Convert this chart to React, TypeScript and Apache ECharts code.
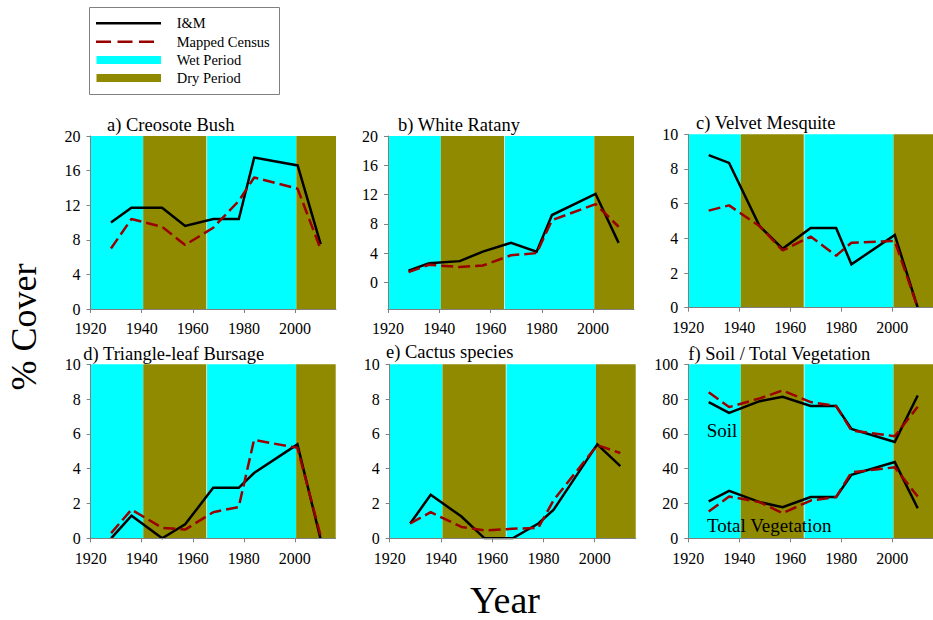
import React, { useEffect, useRef } from "react";
import * as echarts from "echarts";

const years = [1928, 1936, 1948, 1957, 1968, 1978, 1984, 2001, 2010];

const creosoteIM = [10.0, 11.7, 11.7, 9.6, 10.4, 10.4, 17.5, 16.6, 7.5];
const creosoteMC = [7.0, 10.4, 9.5, 7.4, 9.4, 12.5, 15.2, 13.9, 6.9];
const ratanyIM = [1.6, 2.6, 2.9, 4.2, 5.4, 4.2, 9.2, 12.1, 5.4];
const ratanyMC = [1.4, 2.4, 2.1, 2.3, 3.7, 4.0, 8.5, 10.7, 7.6];
const mesquiteIM = [8.8, 8.35, 4.7, 3.4, 4.6, 4.6, 2.5, 4.2, 0];
const mesquiteMC = [5.6, 5.9, 4.7, 3.3, 4.1, 3.0, 3.75, 3.85, 0];
const bursageIM = [0, 1.3, 0, 0.8, 2.9, 2.9, 3.75, 5.4, 0];
const bursageMC = [0.3, 1.65, 0.6, 0.5, 1.5, 1.8, 5.65, 5.2, 0.2];
const cactusIM = [0.85, 2.5, 1.25, 0, 0, 0.85, 1.65, 5.4, 4.15];
const cactusMC = [0.85, 1.5, 0.65, 0.45, 0.55, 0.6, 2.2, 5.35, 4.9];
const soilIM = [78.3, 72.1, 78.8, 81.3, 76, 76, 62.9, 55.4, 82.1];
const soilMC = [84, 75.4, 80.4, 85, 78.3, 76, 62, 58.7, 75.6];
const vegIM = [21.2, 27.3, 20.8, 17.9, 23.7, 23.7, 36.5, 43.8, 17.3];
const vegMC = [15.4, 24, 20.8, 14.4, 21.7, 23.7, 37.9, 40.8, 24];

const xTicks = [1920, 1940, 1960, 1980, 2000];
const yTicks20 = [0, 4, 8, 12, 16, 20];
const yTicks10 = [0, 2, 4, 6, 8, 10];
const yTicks100 = [0, 20, 40, 60, 80, 100];

const periodKinds = ["wet", "dry", "wet", "dry"];
const periodStart = [1920, 1940.6, 1965.6, 2000.5];
const periodEnd = [1940.6, 1965.3, 2000.5, 2016];

const titles = [
  "a) Creosote Bush",
  "b) White Ratany",
  "c) Velvet Mesquite",
  "d) Triangle-leaf Bursage",
  "e) Cactus species",
  "f) Soil / Total Vegetation",
];

const legendTexts = ["I&M", "Mapped Census", "Wet Period", "Dry Period"];

const WET = "#00FFFF";
const DRY = "#8F8A00";
const RED = "#990000";
const FONT = "Liberation Serif";

type Panel = {
  grid: { left: number; top: number; width: number; height: number };
  yMin: number;
  yMax: number;
  yTicks: number[];
  im: number[][];
  mc: number[][];
  title: { x: number; y: number };
};

const panels: Panel[] = [
  { grid: { left: 90.5, top: 136, width: 245.5, height: 173 }, yMin: 0, yMax: 20, yTicks: yTicks20, im: [creosoteIM], mc: [creosoteMC], title: { x: 107, y: 125 } },
  { grid: { left: 388, top: 136, width: 246, height: 173 }, yMin: -3.64, yMax: 20, yTicks: yTicks20, im: [ratanyIM], mc: [ratanyMC], title: { x: 398, y: 125 } },
  { grid: { left: 688.3, top: 134.3, width: 244.7, height: 173.4 }, yMin: 0, yMax: 10, yTicks: yTicks10, im: [mesquiteIM], mc: [mesquiteMC], title: { x: 696, y: 122.7 } },
  { grid: { left: 90.7, top: 364.3, width: 245, height: 174 }, yMin: 0, yMax: 10, yTicks: yTicks10, im: [bursageIM], mc: [bursageMC], title: { x: 83.3, y: 354 } },
  { grid: { left: 389.7, top: 364.3, width: 246, height: 174 }, yMin: 0, yMax: 10, yTicks: yTicks10, im: [cactusIM], mc: [cactusMC], title: { x: 386, y: 352.3 } },
  { grid: { left: 688.3, top: 364.3, width: 244.7, height: 174 }, yMin: 0, yMax: 100, yTicks: yTicks100, im: [soilIM, vegIM], mc: [soilMC, vegMC], title: { x: 688.3, y: 354 } },
];

const pairs = (vals: number[]) => years.map((y, i) => [y, vals[i]]);

function txt(text: string, x: number, y: number, size: number, extra: any = {}) {
  return {
    type: "text",
    x,
    y,
    silent: true,
    z: 20,
    style: {
      text,
      fill: "#000",
      fontSize: size,
      fontFamily: FONT,
      align: "left",
      verticalAlign: "middle",
      textAlign: "left",
      textVerticalAlign: "middle",
      ...extra,
    },
  };
}

export default function App() {
  const ref = useRef<HTMLDivElement>(null);

  useEffect(() => {
    if (!ref.current) return;
    const chart = echarts.init(ref.current, null, { renderer: "svg" });

    const axisLineStyle = { color: "#808080", width: 1 };

    const grids = panels.map((p) => ({ ...p.grid, containLabel: false }));
    const xAxes = panels.map((p, i) => ({
      type: "value",
      gridIndex: i,
      min: 1920,
      max: 2016,
      interval: 20,
      z: 5,
      splitLine: { show: false },
      axisLine: { show: true, onZero: false, lineStyle: axisLineStyle },
      axisTick: { show: true, length: 4, lineStyle: axisLineStyle, customValues: xTicks },
      axisLabel: { show: false },
    }));
    const yAxes = panels.map((p, i) => {
      const step = p.yTicks[1] - p.yTicks[0];
      const useCustom = p.yMin % step !== 0;
      return {
        type: "value",
        gridIndex: i,
        min: p.yMin,
        max: p.yMax,
        interval: useCustom ? undefined : step,
        z: 5,
        splitLine: { show: false },
        axisLine: { show: true, onZero: false, lineStyle: axisLineStyle },
        axisTick: { show: true, length: 4, lineStyle: axisLineStyle, customValues: p.yTicks },
        axisLabel: { show: false },
      };
    });

    const series: any[] = [];
    panels.forEach((p, i) => {
      p.im.forEach((vals, k) => {
        series.push({
          type: "line",
          xAxisIndex: i,
          yAxisIndex: i,
          data: pairs(vals),
          symbol: "none",
          z: 3,
          lineStyle: { color: "#000", width: 2.5, join: "miter" },
          markArea:
            k === 0
              ? {
                  silent: true,
                  data: periodKinds.map((kind, j) => [
                    { xAxis: periodStart[j], itemStyle: { color: kind === "wet" ? WET : DRY, opacity: 1 } },
                    { xAxis: periodEnd[j] },
                  ]),
                }
              : undefined,
        });
      });
      p.mc.forEach((vals) => {
        series.push({
          type: "line",
          xAxisIndex: i,
          yAxisIndex: i,
          data: pairs(vals),
          symbol: "none",
          z: 4,
          lineStyle: { color: RED, width: 2.5, type: [12, 5] },
        });
      });
    });

    chart.setOption({
      animation: false,
      backgroundColor: "#fff",
      textStyle: { fontFamily: FONT },
      grid: grids,
      xAxis: xAxes,
      yAxis: yAxes,
      series,
    });

    const graphic: any[] = [];

    // tick labels, placed through the library's own scales
    panels.forEach((p, i) => {
      xTicks.forEach((t) => {
        const pt = chart.convertToPixel({ gridIndex: i } as any, [t, p.yMin]) as number[];
        graphic.push(txt(String(t), pt[0], pt[1] + 19.7, 16, { align: "center", textAlign: "center" }));
      });
      p.yTicks.forEach((t) => {
        const pt = chart.convertToPixel({ gridIndex: i } as any, [1920, t]) as number[];
        graphic.push(txt(String(t), pt[0] - 10, pt[1], 16, { align: "right", textAlign: "right" }));
      });
    });

    panels.forEach((p, i) => graphic.push(txt(titles[i], p.title.x, p.title.y, 18.5)));
    graphic.push(txt("Soil", 706.7, 430, 19));
    graphic.push(txt("Total Vegetation", 707, 525, 19));
    const cover: any = txt("% Cover", 24, 327, 36, { align: "center", textAlign: "center" });
    cover.rotation = Math.PI / 2;
    graphic.push(cover);
    graphic.push(txt("Year", 505, 600, 38, { align: "center", textAlign: "center" }));

    // legend box
    graphic.push({
      type: "rect",
      silent: true,
      z: 20,
      shape: { x: 89.5, y: 7.5, width: 190, height: 87 },
      style: { fill: "#fff", stroke: "#808080", lineWidth: 1 },
    });
    graphic.push({
      type: "line",
      silent: true,
      z: 21,
      shape: { x1: 96, y1: 23.3, x2: 161, y2: 23.3 },
      style: { stroke: "#000", lineWidth: 2.5 },
    });
    graphic.push({
      type: "line",
      silent: true,
      z: 21,
      shape: { x1: 96, y1: 41.7, x2: 154, y2: 41.7 },
      style: { stroke: RED, lineWidth: 2.5, lineDash: [15, 6.5] },
    });
    graphic.push({
      type: "rect",
      silent: true,
      z: 21,
      shape: { x: 96.5, y: 56, width: 64.5, height: 8 },
      style: { fill: WET },
    });
    graphic.push({
      type: "rect",
      silent: true,
      z: 21,
      shape: { x: 96.5, y: 74, width: 64.5, height: 8 },
      style: { fill: DRY },
    });
    const legendY = [23, 42, 60, 78];
    legendTexts.forEach((t, j) => {
      const g: any = txt(t, 176.7, legendY[j], 14.5);
      g.z = 22;
      graphic.push(g);
    });

    chart.setOption({ graphic });

    return () => chart.dispose();
  }, []);

  return (
    <div
      ref={ref}
      style={{ position: "absolute", left: 0, top: 0, width: 933, height: 620 }}
    />
  );
}
